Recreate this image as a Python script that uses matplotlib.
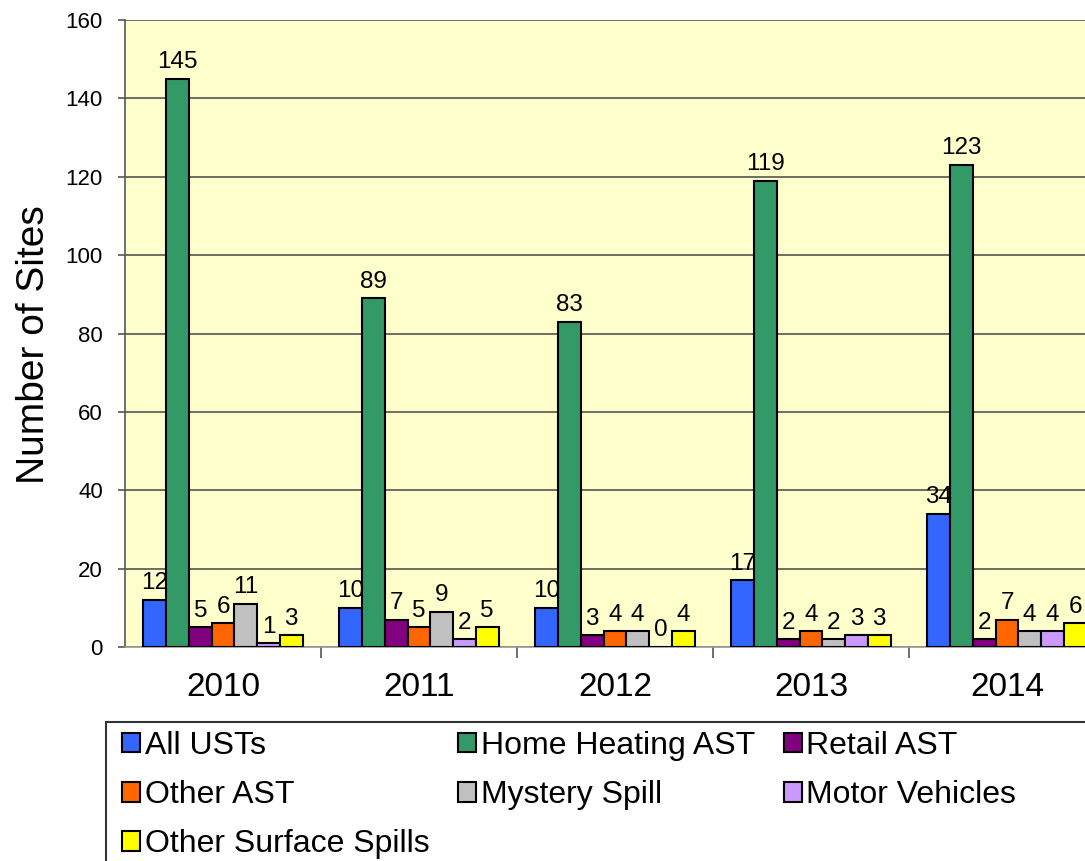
import numpy as np
import matplotlib
matplotlib.use('Agg')
import matplotlib.pyplot as plt
from matplotlib.patches import Rectangle

plt.rcParams['font.family'] = ['Liberation Sans', 'DejaVu Sans']

years = ['2010', '2011', '2012', '2013', '2014']
series = ['All USTs', 'Home Heating AST', 'Retail AST', 'Other AST',
          'Mystery Spill', 'Motor Vehicles', 'Other Surface Spills']
all_usts = [12, 10, 10, 17, 34]
home_heating = [145, 89, 83, 119, 123]
retail_ast = [5, 7, 3, 2, 2]
other_ast = [6, 5, 4, 4, 7]
mystery_spill = [11, 9, 4, 2, 4]
motor_vehicles = [1, 2, 0, 3, 4]
other_surface = [3, 5, 4, 3, 6]
values = [all_usts, home_heating, retail_ast, other_ast,
          mystery_spill, motor_vehicles, other_surface]
colors = ['#3366FF', '#339966', '#800080', '#FF6600',
          '#C0C0C0', '#CC99FF', '#FFFF00']

W, H = 1085, 861
fig = plt.figure(figsize=(W / 100, H / 100), dpi=100)
ax = fig.add_axes([125 / W, 1 - 647 / H, 980 / W, 627 / H])
ax.set_facecolor('#FFFFCC')

x = np.arange(len(years))
w = 0.116
for i, (name, vals, c) in enumerate(zip(series, values, colors)):
    pos = x + (i - 3) * w
    ax.bar(pos, vals, w, color=c, edgecolor='black', linewidth=1.5,
           label=name, zorder=3)
    for p, v in zip(pos, vals):
        ax.annotate(str(v), (p, v), xytext=(0, 4), textcoords='offset points',
                    ha='center', va='bottom', fontsize=17.5, zorder=4)

ax.set_xlim(-0.5, 4.5)
ax.set_ylim(0, 160)
ax.set_yticks(range(0, 161, 20))
ax.yaxis.grid(True, color='#555555', linewidth=1.2, zorder=0)
ax.tick_params(axis='y', labelsize=16, length=5, width=1.2, color='#555555', pad=11)
ax.set_ylabel('Number of Sites', fontsize=28)
ax.yaxis.set_label_coords(-0.0745, 0.482)

ax.set_xticks(x)
ax.set_xticklabels(years, fontsize=24)
ax.set_xticks(np.arange(0.5, 4.5, 1), minor=True)
ax.tick_params(axis='x', which='major', length=0, pad=18)
ax.tick_params(axis='x', which='minor', length=8, width=1.2, color='#555555')

for s in ['top', 'right']:
    ax.spines[s].set_visible(False)
ax.spines['left'].set_color('#555555')
ax.spines['left'].set_linewidth(1.2)
ax.spines['bottom'].set_color('#999999')
ax.spines['bottom'].set_linewidth(1.2)

# legend box (runs off the right and bottom edge like the original)
fig.add_artist(Rectangle((106 / W, -0.1), 1.0, 1 - 722 / H + 0.1,
                         transform=fig.transFigure, fill=False,
                         edgecolor='#333333', linewidth=1.5))

handles, labels = ax.get_legend_handles_labels()
order = [0, 3, 6, 1, 4, 2, 5]
fig.legend([handles[i] for i in order], [labels[i] for i in order],
           loc='upper left', bbox_to_anchor=(122 / W, 1 - 731 / H),
           ncol=3, fontsize=23, frameon=False,
           handlelength=0.56, handleheight=0.56,
           handletextpad=0.15, columnspacing=0.9, labelspacing=0.6,
           borderpad=0, borderaxespad=0)

plt.savefig('out.png', dpi=100)
plt.close()
